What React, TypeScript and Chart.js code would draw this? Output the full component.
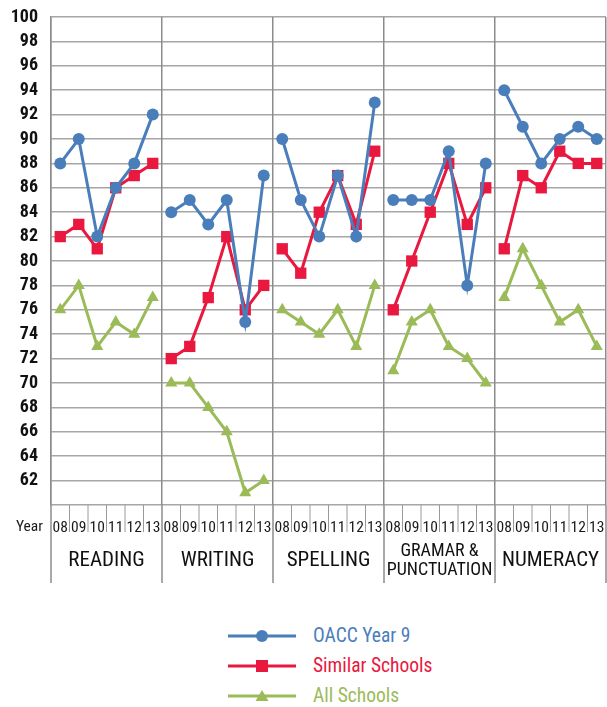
import React, { useEffect, useRef } from 'react';
import { Chart, registerables } from 'chart.js';

Chart.register(...registerables);

const FONT = "'Roboto Condensed', 'Open Sans Condensed', 'DejaVu Sans Condensed', sans-serif";

const years = ['08', '09', '10', '11', '12', '13'];
const subjects: (string | string[])[] = ['READING', 'WRITING', 'SPELLING', ['GRAMAR &', 'PUNCTUATION'], 'NUMERACY'];

// values per subject, years 08..13
const oaccYear9 = [
  88, 90, 82, 86, 88, 92,
  84, 85, 83, 85, 75, 87,
  90, 85, 82, 87, 82, 93,
  85, 85, 85, 89, 78, 88,
  94, 91, 88, 90, 91, 90,
];
const similarSchools = [
  82, 83, 81, 86, 87, 88,
  72, 73, 77, 82, 76, 78,
  81, 79, 84, 87, 83, 89,
  76, 80, 84, 88, 83, 86,
  81, 87, 86, 89, 88, 88,
];
const allSchools = [
  76, 78, 73, 75, 74, 77,
  70, 70, 68, 66, 61, 62,
  76, 75, 74, 76, 73, 78,
  71, 75, 76, 73, 72, 70,
  77, 81, 78, 75, 76, 73,
];

const seriesNames = ['OACC Year 9', 'Similar Schools', 'All Schools'];
const BLUE = '#4a7ebb';
const RED = '#e8183e';
const GREEN = '#9bbb59';

const yearLabels = subjects.flatMap(() => years);

const gapSegment = (ctx: any) => (ctx.p0DataIndex % years.length === years.length - 1 ? 'rgba(0,0,0,0)' : undefined);

const axisDecor = {
  id: 'axisDecor',
  afterDraw(chart: any) {
    const { ctx } = chart;
    const x = chart.scales.x;
    const x2 = chart.scales.x2;
    ctx.save();
    for (let i = 0; i <= yearLabels.length; i++) {
      const px = x.getPixelForValue(i - 0.5);
      const isGroup = i % years.length === 0;
      ctx.beginPath();
      ctx.strokeStyle = isGroup ? '#8c8c8c' : '#9a9a9a';
      ctx.lineWidth = isGroup ? 1.5 : 1;
      ctx.moveTo(px, x.top);
      ctx.lineTo(px, isGroup ? x2.bottom : x.bottom - 1);
      ctx.stroke();
    }
    ctx.fillStyle = '#1a1a1a';
    ctx.font = `15.5px ${FONT}`;
    ctx.textAlign = 'right';
    ctx.textBaseline = 'middle';
    ctx.fillText('Year', x.left - 8, x.top + 22);
    ctx.restore();
  },
};

function LegendMarker({ kind, color }: { kind: string; color: string }) {
  return (
    <svg width={70} height={16} style={{ display: 'block' }}>
      <line x1={0} y1={8} x2={68} y2={8} stroke={color} strokeWidth={3} />
      {kind === 'circle' && <circle cx={34} cy={8} r={6} fill={color} />}
      {kind === 'rect' && <rect x={28} y={2} width={12} height={12} fill={color} />}
      {kind === 'triangle' && <polygon points="34,2 40.5,13 27.5,13" fill={color} />}
    </svg>
  );
}

export default function App() {
  const canvasRef = useRef<HTMLCanvasElement | null>(null);

  useEffect(() => {
    if (!canvasRef.current) return;
    const chart = new Chart(canvasRef.current, {
      type: 'line',
      data: {
        labels: yearLabels,
        datasets: [
          {
            label: seriesNames[0],
            data: oaccYear9,
            borderColor: BLUE,
            backgroundColor: BLUE,
            borderWidth: 3,
            pointStyle: 'circle',
            pointRadius: 6,
            pointBorderWidth: 0,
            pointBackgroundColor: BLUE,
            segment: { borderColor: gapSegment },
          },
          {
            label: seriesNames[1],
            data: similarSchools,
            borderColor: RED,
            backgroundColor: RED,
            borderWidth: 3,
            pointStyle: 'rect',
            pointRadius: 8,
            pointBorderWidth: 0,
            pointBackgroundColor: RED,
            segment: { borderColor: gapSegment },
          },
          {
            label: seriesNames[2],
            data: allSchools,
            borderColor: GREEN,
            backgroundColor: GREEN,
            borderWidth: 3,
            pointStyle: 'triangle',
            pointRadius: 7,
            pointBorderWidth: 0,
            pointBackgroundColor: GREEN,
            segment: { borderColor: gapSegment },
          },
        ],
      },
      options: {
        responsive: false,
        animation: false,
        layout: { autoPadding: false, padding: { top: 17, right: 1, bottom: 7, left: 0 } },
        plugins: {
          legend: { display: false },
          tooltip: { enabled: false },
        },
        scales: {
          y: {
            min: 60,
            max: 100,
            ticks: {
              stepSize: 2,
              autoSkip: false,
              padding: 13,
              color: '#111',
              font: { family: FONT, size: 18, weight: 'bold' },
              callback: (v: any) => (v === 60 ? '' : String(v)),
            },
            grid: { color: '#a6a6a6', lineWidth: 1.5, drawTicks: false },
            border: { display: true, color: '#8c8c8c', width: 1.5 },
            afterFit: (s: any) => {
              s.width = 51;
              s.paddingTop = 0;
              s.paddingBottom = 0;
            },
          },
          x: {
            type: 'category',
            position: 'bottom',
            weight: 1,
            offset: true,
            grid: { display: false, drawTicks: false },
            border: { display: false },
            ticks: {
              autoSkip: false,
              maxRotation: 0,
              minRotation: 0,
              padding: 14,
              color: '#1a1a1a',
              font: { family: FONT, size: 15.5 },
            },
            afterFit: (s: any) => {
              s.height = 28;
              s.paddingLeft = 0;
              s.paddingRight = 0;
            },
          },
          x2: {
            type: 'category',
            position: 'bottom',
            weight: 2,
            labels: subjects as any,
            offset: true,
            grid: { display: true, offset: true, drawTicks: false, color: '#8c8c8c', lineWidth: 1.5 },
            border: { display: false },
            ticks: {
              autoSkip: false,
              maxRotation: 0,
              minRotation: 0,
              padding: 18,
              crossAlign: 'center',
              color: '#111',
              font: (c: any) => ({ family: FONT, size: c.index === 3 ? 18 : 21, lineHeight: '19px' }),
            },
            afterFit: (s: any) => {
              s.height = 50;
              s.paddingLeft = 0;
              s.paddingRight = 0;
            },
          },
        },
      } as any,
      plugins: [axisDecor],
    });
    return () => chart.destroy();
  }, []);

  const legendRows = [
    { name: seriesNames[0], color: BLUE, kind: 'circle', y: 636 },
    { name: seriesNames[1], color: RED, kind: 'rect', y: 666 },
    { name: seriesNames[2], color: GREEN, kind: 'triangle', y: 696 },
  ];

  return (
    <div style={{ position: 'absolute', left: 0, top: 0, width: 607, height: 707, background: '#fff', overflow: 'hidden' }}>
      <canvas ref={canvasRef} width={607} height={590} style={{ position: 'absolute', left: 0, top: 0, width: 607, height: 590 }} />
      {legendRows.map((r) => (
        <div key={r.name} style={{ position: 'absolute', left: 228, top: r.y - 8, height: 16, display: 'flex', alignItems: 'center' }}>
          <LegendMarker kind={r.kind} color={r.color} />
          <span style={{ marginLeft: 15, color: r.color, fontFamily: FONT, fontSize: 19.5, lineHeight: '16px', whiteSpace: 'nowrap' }}>{r.name}</span>
        </div>
      ))}
    </div>
  );
}
